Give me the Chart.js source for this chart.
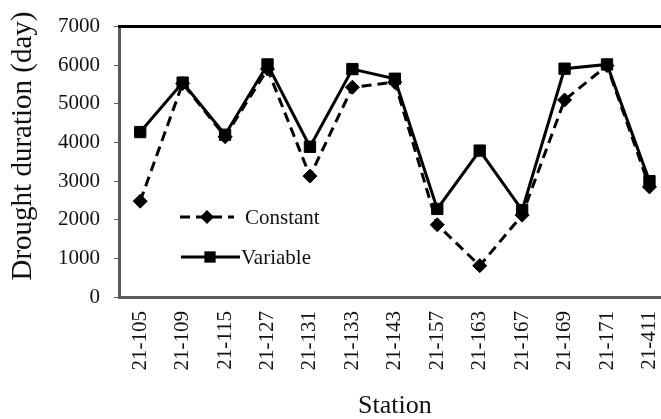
<!DOCTYPE html>
<html>
<head>
<meta charset="utf-8">
<script src="https://cdn.jsdelivr.net/npm/chart.js@4.4.1/dist/chart.umd.min.js"></script>
<style>
  html, body { margin: 0; padding: 0; background: #fff; overflow: hidden; }
  #wrap { width: 661px; height: 419px; overflow: hidden; }
  #chart { display: block; }
</style>
</head>
<body>
<div id="wrap"><canvas id="chart" width="689" height="419"></canvas></div>
<script>
const stations = ["21-105", "21-109", "21-115", "21-127", "21-131", "21-133", "21-143",
  "21-157", "21-163", "21-167", "21-169", "21-171", "21-411"];
const constantDays = [2480, 5530, 4150, 5900, 3130, 5430, 5560, 1870, 810, 2120, 5100, 5990, 2850];
const variableDays = [4270, 5550, 4200, 6020, 3890, 5900, 5650, 2280, 3790, 2250, 5910, 6020, 3000];
const yMax = 7000;
const yStep = 1000;

const SERIF = "'Liberation Serif', 'Times New Roman', serif";

// black frame line along the top of the plot
const topBorder = {
  id: "topBorder",
  beforeDatasetsDraw(chart) {
    const { ctx, chartArea } = chart;
    ctx.save();
    ctx.strokeStyle = "#000";
    ctx.lineWidth = 3;
    ctx.beginPath();
    ctx.moveTo(chartArea.left - 1, chartArea.top);
    ctx.lineTo(chartArea.right, chartArea.top);
    ctx.stroke();
    ctx.restore();
  },
};

// legend sitting inside the plot, line + marker sample like the original
const insideLegend = {
  id: "insideLegend",
  afterDatasetsDraw(chart) {
    const { ctx } = chart;
    const rows = [
      { ds: 0, x1: 180, x2: 234, mx: 207, y: 217, tx: 245 },
      { ds: 1, x1: 181, x2: 240, mx: 210, y: 257, tx: 241 },
    ];
    ctx.save();
    rows.forEach((r) => {
      const ds = chart.data.datasets[r.ds];
      ctx.strokeStyle = ds.borderColor;
      ctx.lineWidth = ds.borderWidth;
      ctx.setLineDash(ds.borderDash || []);
      ctx.beginPath();
      ctx.moveTo(r.x1, r.y);
      ctx.lineTo(r.x2, r.y);
      ctx.stroke();
      ctx.setLineDash([]);
      ctx.fillStyle = ds.pointBackgroundColor;
      Chart.helpers.drawPoint(ctx, {
        pointStyle: ds.pointStyle,
        radius: ds.pointRadius,
        rotation: 0,
        borderWidth: 0,
      }, r.mx, r.y);
      ctx.fillStyle = "#111";
      ctx.font = `21px ${SERIF}`;
      ctx.textBaseline = "middle";
      ctx.textAlign = "left";
      ctx.fillText(ds.label, r.tx, r.y + 1);
    });
    ctx.restore();
  },
};

// y axis title, placed a little above centre as in the source figure
const yTitle = {
  id: "yTitle",
  afterDraw(chart) {
    const { ctx } = chart;
    ctx.save();
    ctx.translate(23, 146);
    ctx.rotate(-Math.PI / 2);
    ctx.fillStyle = "#111";
    ctx.font = `29px ${SERIF}`;
    ctx.textAlign = "center";
    ctx.textBaseline = "middle";
    ctx.fillText("Drought duration (day)", 0, 0);
    ctx.restore();
  },
};

new Chart(document.getElementById("chart"), {
  type: "line",
  data: {
    labels: stations,
    datasets: [
      {
        label: "Constant",
        data: constantDays,
        borderColor: "#000",
        backgroundColor: "#000",
        borderWidth: 3,
        borderDash: [10, 6],
        pointStyle: "rectRot",
        pointRadius: 7,
        pointBackgroundColor: "#000",
        pointBorderColor: "#000",
        pointBorderWidth: 1,
        tension: 0,
      },
      {
        label: "Variable",
        data: variableDays,
        borderColor: "#000",
        backgroundColor: "#000",
        borderWidth: 3,
        pointStyle: "rect",
        pointRadius: 8,
        pointBackgroundColor: "#000",
        pointBorderColor: "#000",
        pointBorderWidth: 1,
        tension: 0,
      },
    ],
  },
  options: {
    responsive: false,
    animation: false,
    layout: { padding: { top: 20, right: 6, left: 0, bottom: 0 } },
    plugins: {
      legend: { display: false },
      tooltip: { enabled: false },
    },
    scales: {
      x: {
        offset: true,
        grid: { display: true, drawOnChartArea: false, drawTicks: false },
        border: { display: true, color: "#5a5a5a", width: 3 },
        ticks: {
          color: "#111",
          font: { family: SERIF, size: 21 },
          minRotation: 90,
          maxRotation: 90,
          padding: 14,
          autoSkip: false,
        },
        title: {
          display: true,
          text: "Station",
          color: "#111",
          font: { family: SERIF, size: 26, lineHeight: 1 },
          padding: { top: 0, bottom: 0 },
        },
        afterFit: (s) => { s.height = 122; },
      },
      y: {
        min: 0,
        max: yMax,
        grid: { display: true, drawOnChartArea: false, drawTicks: true, tickLength: 5, color: "#5a5a5a", lineWidth: 1 },
        border: { display: true, color: "#5a5a5a", width: 3 },
        ticks: {
          stepSize: yStep,
          color: "#111",
          font: { family: SERIF, size: 21 },
          padding: 14,
          callback: (v) => String(v),
        },
        afterFit: (s) => { s.width = 119; },
      },
    },
  },
  plugins: [topBorder, insideLegend, yTitle],
});
</script>
</body>
</html>
